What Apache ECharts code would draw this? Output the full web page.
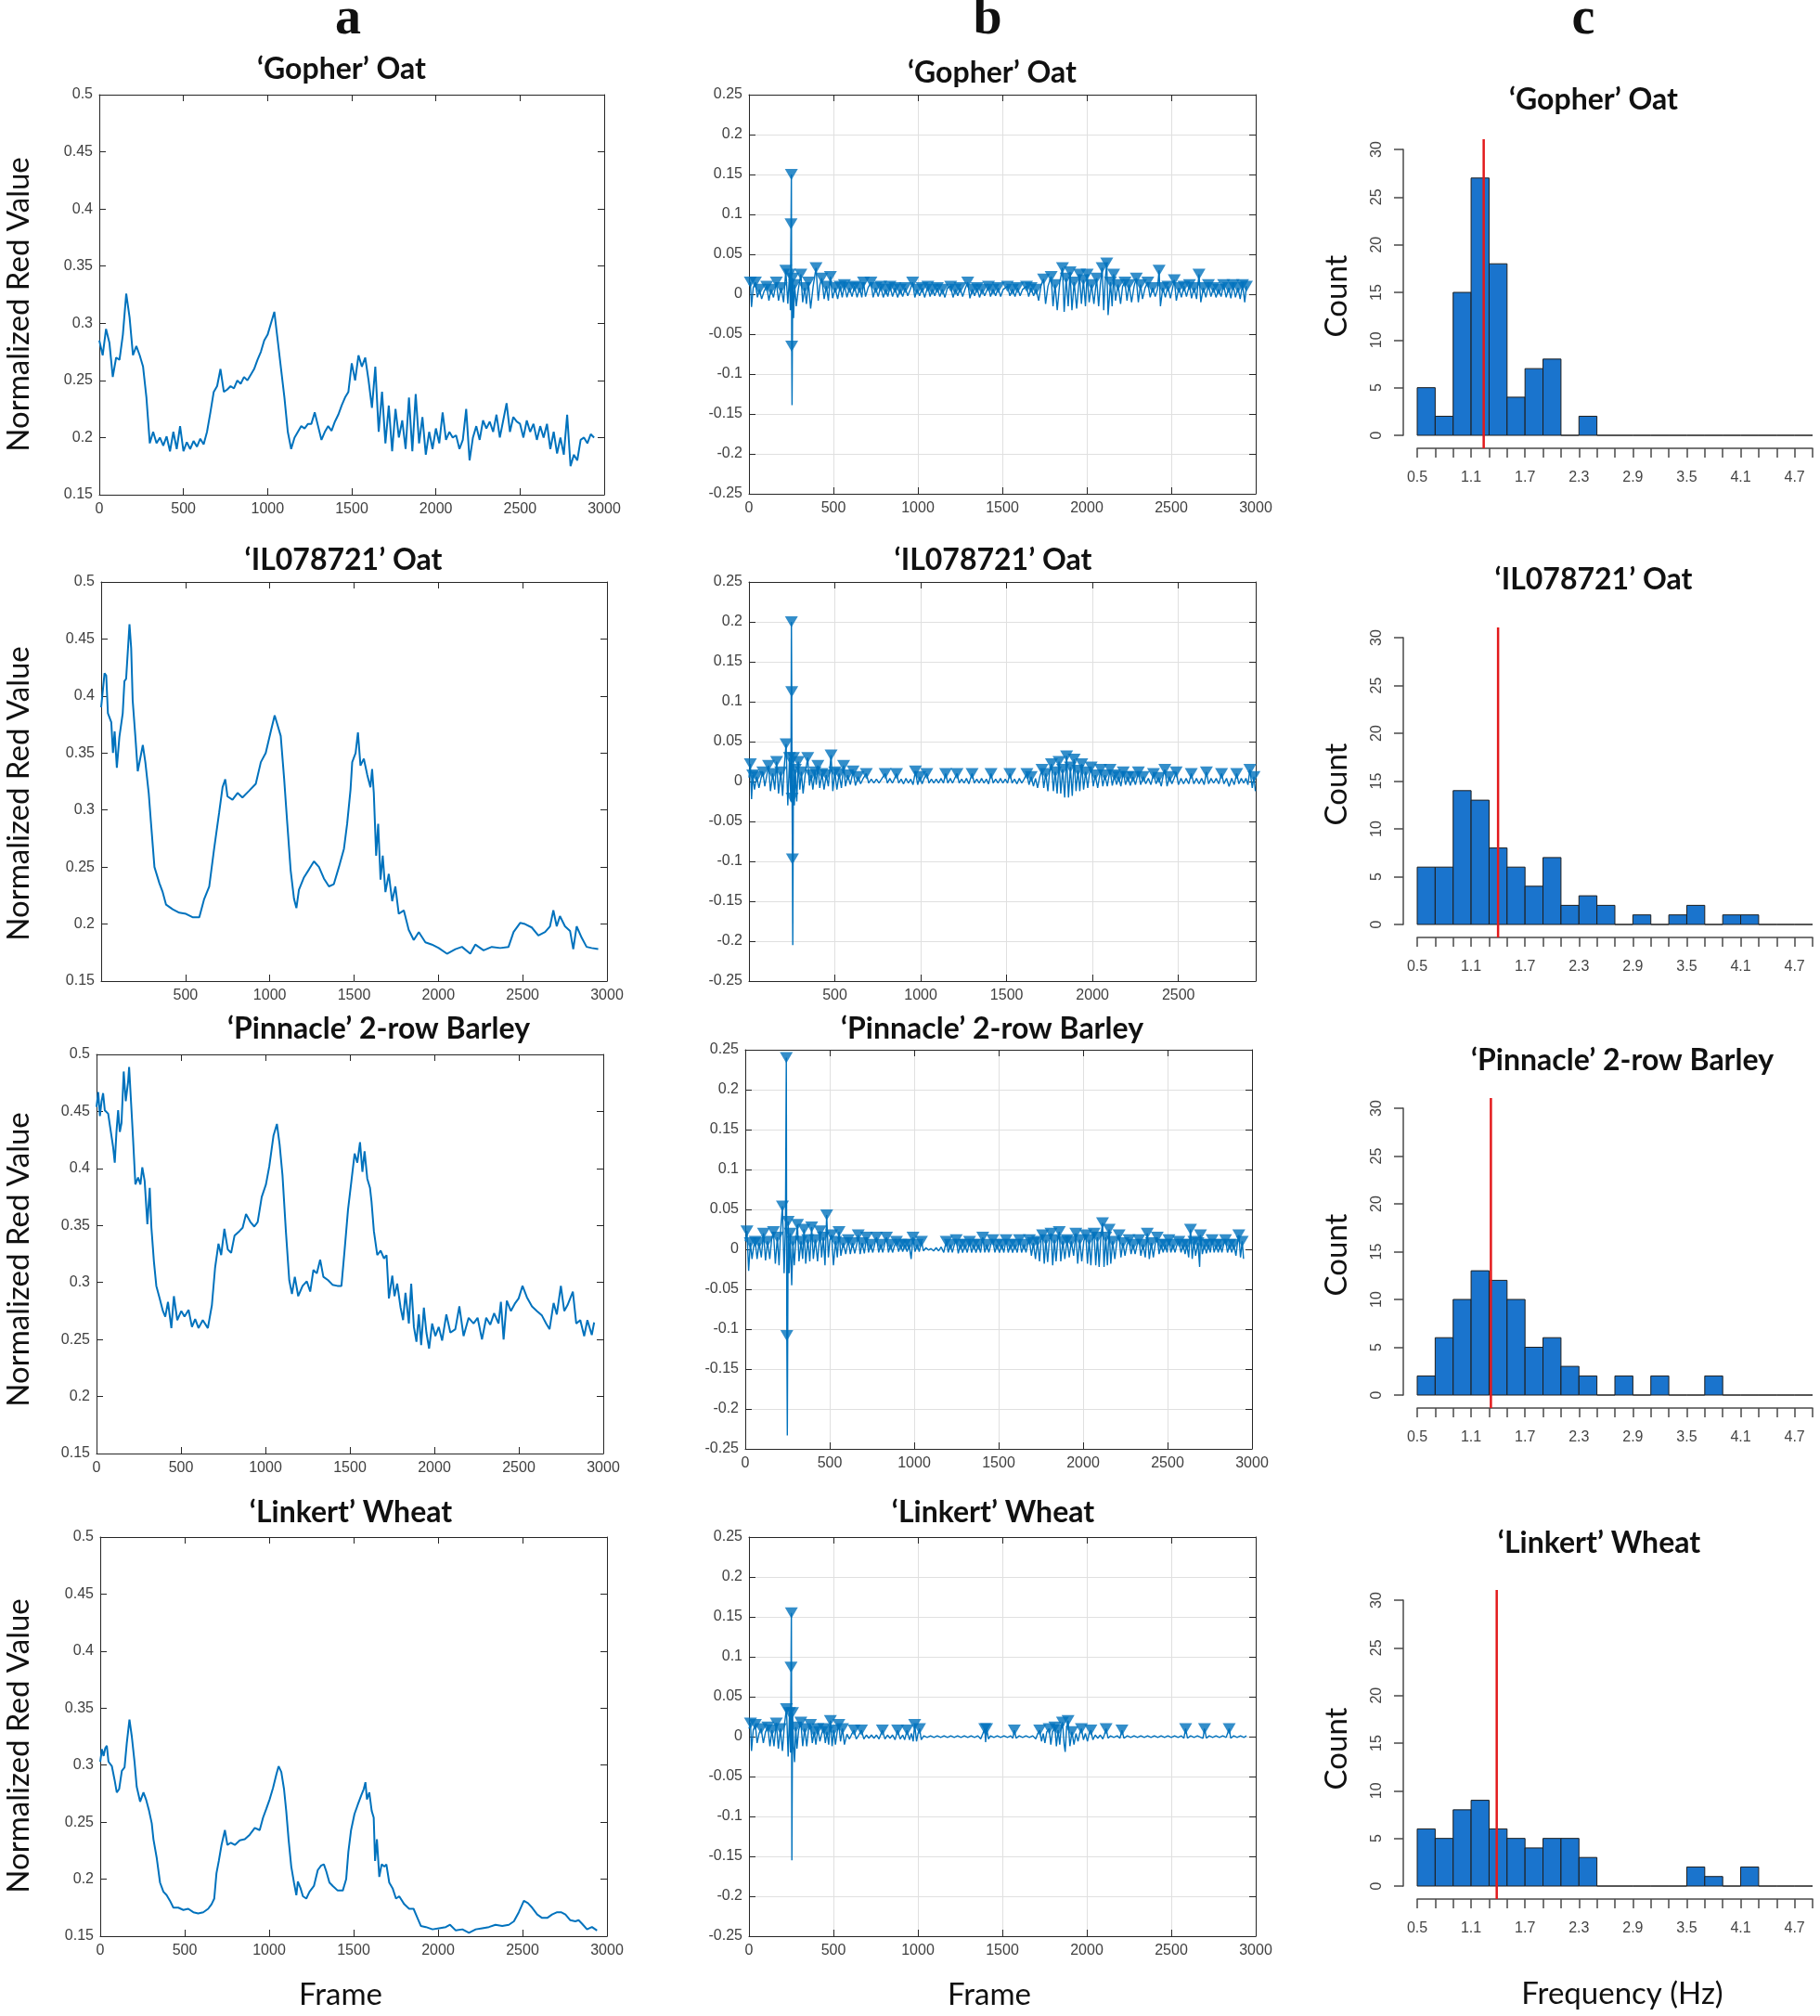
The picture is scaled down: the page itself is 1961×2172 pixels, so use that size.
<!DOCTYPE html>
<html>
<head>
<meta charset="utf-8">
<script src="https://cdn.jsdelivr.net/npm/echarts@6/dist/echarts.min.js"></script>
<style>
html, body { margin: 0; padding: 0; background: #fff; }
#chart { width: 1961px; height: 2172px; }
</style>
</head>
<body>
<div id="chart"></div>
<script>
// ---- column a: normalized red value per frame ----
const gopherRed = [[0,.285],[20,.272],[40,.295],[60,.283],[80,.253],[100,.27],[120,.268],[140,.29],[160,.326],[180,.305],[200,.272],[220,.28],[240,.272],[260,.262],[280,.235],[300,.195],[320,.205],[340,.195],[360,.2],[380,.193],[400,.201],[420,.188],[440,.205],[460,.19],[480,.21],[500,.188],[520,.196],[540,.19],[560,.197],[580,.192],[600,.199],[620,.194],[640,.205],[660,.222],[680,.24],[700,.245],[720,.26],[740,.24],[760,.242],[780,.245],[800,.243],[820,.25],[840,.247],[860,.253],[880,.25],[900,.255],[920,.26],[940,.268],[960,.275],[980,.285],[1000,.29],[1020,.3],[1040,.31],[1060,.285],[1080,.26],[1100,.235],[1120,.205],[1140,.19],[1160,.2],[1180,.205],[1200,.21],[1220,.208],[1240,.212],[1260,.212],[1280,.222],[1300,.21],[1320,.198],[1340,.205],[1360,.21],[1380,.206],[1400,.214],[1420,.22],[1440,.228],[1460,.235],[1480,.24],[1500,.265],[1520,.25],[1540,.272],[1560,.262],[1580,.27],[1600,.25],[1620,.226],[1640,.262],[1660,.205],[1680,.24],[1700,.195],[1720,.228],[1740,.188],[1760,.225],[1780,.2],[1800,.215],[1820,.19],[1840,.235],[1860,.188],[1880,.238],[1900,.195],[1920,.218],[1940,.185],[1960,.205],[1980,.19],[2000,.208],[2020,.195],[2040,.222],[2060,.198],[2080,.205],[2100,.2],[2120,.202],[2140,.19],[2160,.198],[2180,.225],[2200,.18],[2220,.2],[2240,.21],[2260,.198],[2280,.215],[2300,.208],[2320,.214],[2340,.205],[2360,.22],[2380,.2],[2400,.215],[2420,.23],[2440,.205],[2460,.218],[2480,.214],[2500,.212],[2520,.2],[2540,.215],[2560,.205],[2580,.212],[2600,.198],[2620,.21],[2640,.2],[2660,.212],[2680,.19],[2700,.205],[2720,.186],[2740,.2],[2760,.185],[2780,.22],[2800,.175],[2820,.185],[2840,.18],[2860,.198],[2880,.2],[2900,.195],[2920,.203],[2940,.2]];

const il078721Red = [[0,.39],[20,.42],[30,.418],[40,.385],[60,.377],[70,.35],[80,.369],[93,.337],[108,.364],[128,.385],[138,.413],[148,.415],[168,.463],[178,.442],[187,.396],[203,.364],[217,.334],[247,.357],[262,.342],[282,.315],[296,.288],[306,.269],[316,.25],[345,.236],[365,.228],[385,.217],[424,.213],[463,.21],[503,.209],[542,.206],[582,.206],[611,.222],[641,.233],[670,.266],[700,.298],[720,.32],[736,.327],[749,.312],[779,.309],[809,.315],[838,.311],[878,.317],[917,.323],[947,.342],[976,.35],[1006,.369],[1029,.383],[1045,.375],[1065,.365],[1085,.328],[1104,.288],[1124,.247],[1144,.222],[1158,.214],[1173,.23],[1203,.241],[1233,.248],[1262,.255],[1292,.25],[1321,.24],[1351,.233],[1380,.235],[1410,.25],[1440,.266],[1459,.288],[1479,.318],[1489,.342],[1509,.35],[1523,.368],[1538,.339],[1558,.345],[1578,.331],[1597,.32],[1607,.336],[1617,.315],[1631,.26],[1643,.288],[1657,.239],[1670,.26],[1686,.228],[1706,.244],[1726,.22],[1745,.233],[1765,.209],[1795,.212],[1824,.195],[1854,.186],[1884,.193],[1923,.184],[1962,.182],[2002,.179],[2051,.174],[2101,.178],[2140,.18],[2189,.174],[2219,.182],[2268,.177],[2317,.18],[2367,.179],[2416,.18],[2446,.193],[2485,.201],[2514,.2],[2554,.197],[2593,.19],[2633,.193],[2662,.198],[2682,.212],[2702,.198],[2721,.207],[2751,.198],[2781,.194],[2800,.178],[2820,.198],[2850,.188],[2879,.18],[2909,.179],[2948,.178]];

const pinnacleRed = [[0,.454],[10,.467],[20,.446],[30,.459],[39,.466],[49,.451],[69,.448],[85,.432],[98,.419],[108,.405],[118,.432],[128,.451],[138,.432],[148,.44],[161,.485],[173,.459],[187,.476],[193,.489],[203,.462],[216,.427],[230,.386],[246,.392],[260,.386],[271,.401],[285,.389],[301,.351],[315,.383],[325,.348],[340,.318],[354,.297],[374,.286],[393,.275],[407,.27],[423,.283],[443,.26],[458,.288],[478,.267],[502,.275],[521,.27],[545,.276],[565,.261],[584,.268],[604,.26],[629,.267],[659,.26],[683,.28],[702,.313],[722,.334],[738,.324],[757,.347],[777,.329],[797,.326],[817,.341],[846,.345],[865,.348],[885,.36],[911,.353],[934,.349],[954,.353],[978,.375],[1003,.386],[1023,.402],[1048,.429],[1068,.439],[1084,.421],[1101,.394],[1121,.345],[1141,.302],[1157,.29],[1174,.305],[1194,.288],[1220,.297],[1245,.301],[1265,.292],[1284,.311],[1304,.308],[1324,.32],[1343,.305],[1371,.302],[1397,.298],[1426,.297],[1450,.297],[1469,.329],[1489,.364],[1509,.389],[1528,.413],[1544,.405],[1560,.423],[1574,.397],[1587,.415],[1603,.391],[1619,.383],[1628,.371],[1642,.345],[1662,.324],[1682,.328],[1702,.321],[1717,.324],[1731,.286],[1751,.306],[1764,.288],[1780,.299],[1800,.278],[1815,.267],[1829,.291],[1849,.264],[1863,.299],[1879,.261],[1894,.248],[1908,.272],[1922,.245],[1938,.278],[1953,.256],[1969,.242],[1987,.264],[2006,.253],[2026,.261],[2046,.249],[2071,.272],[2095,.256],[2124,.259],[2148,.279],[2173,.253],[2203,.269],[2232,.264],[2256,.269],[2282,.25],[2307,.269],[2331,.263],[2354,.273],[2380,.264],[2394,.283],[2410,.25],[2429,.284],[2453,.275],[2479,.282],[2499,.286],[2522,.297],[2548,.287],[2578,.279],[2607,.275],[2637,.271],[2662,.264],[2682,.259],[2706,.282],[2725,.272],[2749,.297],[2769,.275],[2788,.28],[2820,.292],[2840,.264],[2864,.267],[2887,.253],[2906,.267],[2932,.254],[2946,.265]];

const linkertRed = [[0,.303],[10,.314],[20,.308],[30,.315],[39,.317],[49,.303],[69,.299],[85,.287],[98,.276],[112,.279],[128,.295],[144,.298],[157,.319],[173,.34],[187,.325],[203,.303],[216,.281],[236,.268],[256,.276],[271,.27],[289,.26],[305,.249],[315,.235],[334,.219],[354,.197],[374,.189],[393,.186],[413,.181],[433,.175],[462,.175],[492,.173],[521,.174],[551,.171],[580,.17],[610,.171],[639,.174],[659,.178],[675,.183],[688,.205],[702,.216],[718,.23],[738,.243],[753,.23],[773,.232],[797,.23],[826,.234],[856,.235],[885,.239],[915,.245],[944,.243],[964,.254],[984,.262],[1003,.27],[1023,.28],[1043,.292],[1056,.299],[1072,.294],[1088,.279],[1101,.26],[1115,.235],[1131,.211],[1147,.197],[1161,.186],[1170,.198],[1186,.192],[1200,.185],[1220,.183],[1239,.189],[1265,.194],[1288,.208],[1308,.212],[1324,.213],[1338,.207],[1357,.197],[1377,.194],[1406,.19],[1436,.19],[1456,.2],[1469,.224],[1485,.243],[1505,.257],[1524,.265],[1544,.273],[1560,.279],[1570,.285],[1579,.27],[1593,.276],[1607,.26],[1619,.254],[1627,.216],[1638,.235],[1652,.202],[1666,.213],[1682,.211],[1694,.213],[1711,.197],[1731,.192],[1751,.183],[1770,.185],[1800,.178],[1829,.174],[1855,.174],[1875,.167],[1898,.159],[1928,.158],[1967,.156],[2006,.157],[2046,.158],[2071,.16],[2105,.155],[2144,.156],[2183,.153],[2223,.156],[2262,.157],[2301,.158],[2340,.16],[2380,.159],[2419,.16],[2449,.163],[2478,.171],[2508,.181],[2532,.179],[2557,.175],[2587,.169],[2616,.166],[2646,.166],[2675,.169],[2705,.171],[2728,.171],[2754,.169],[2783,.164],[2813,.163],[2832,.164],[2852,.161],[2882,.156],[2911,.158],[2941,.155]];

// ---- column b: derivative signal per frame ----
const gopherDeriv = [[0,.012],[8,.015],[15,-.016],[25,.008],[38,.015],[50,-.004],[62,.006],[75,-.006],[90,.004],[105,.01],[118,-.008],[130,.006],[145,-.004],[162,.015],[175,-.008],[190,.008],[205,-.01],[218,.03],[230,-.012],[240,.025],[245,-.02],[249,.088],[251,.15],[253,-.065],[255,-.139],[259,.02],[264,-.03],[270,.012],[280,-.015],[292,.006],[307,.025],[318,-.01],[330,.008],[340,-.012],[352,.015],[365,-.018],[380,.01],[397,.033],[410,-.008],[420,.012],[431,.02],[445,-.006],[458,.01],[470,-.008],[482,.022],[495,-.005],[510,.008],[525,-.006],[540,.01],[552,-.004],[565,.012],[580,-.004],[595,.008],[610,-.003],[625,.01],[640,-.004],[655,.008],[668,-.004],[678,.015],[690,-.003],[705,.008],[722,.015],[735,-.004],[750,.008],[765,-.003],[780,.01],[795,-.004],[810,.006],[822,-.003],[835,.01],[850,-.003],[865,.008],[880,-.004],[895,.006],[910,-.003],[925,.008],[940,-.002],[955,.006],[969,.015],[982,-.004],[995,.006],[1010,-.002],[1025,.008],[1040,-.004],[1059,.01],[1072,-.003],[1085,.006],[1100,-.002],[1115,.008],[1130,-.003],[1145,.006],[1160,-.004],[1175,.008],[1194,.01],[1208,-.004],[1222,.006],[1236,-.002],[1250,.008],[1265,-.003],[1280,.007],[1295,.015],[1308,-.005],[1322,.006],[1336,-.002],[1350,.008],[1365,-.004],[1380,.006],[1395,-.002],[1418,.01],[1430,-.003],[1445,.006],[1460,-.002],[1475,.008],[1490,-.003],[1505,.006],[1530,.01],[1545,-.002],[1560,.006],[1575,-.003],[1590,.008],[1605,-.002],[1620,.006],[1643,.01],[1656,-.003],[1670,.008],[1685,-.002],[1700,.006],[1715,-.008],[1730,.012],[1744,.019],[1756,-.012],[1770,.01],[1789,.022],[1800,-.015],[1812,.012],[1825,-.02],[1840,.015],[1856,.033],[1866,-.022],[1878,.02],[1890,-.015],[1901,.028],[1912,-.02],[1925,.015],[1940,-.018],[1957,.025],[1968,-.012],[1980,.018],[1992,-.015],[2002,.025],[2014,-.01],[2028,.012],[2042,-.012],[2058,.02],[2070,-.015],[2080,.012],[2091,.033],[2100,-.02],[2110,.02],[2118,.039],[2126,-.026],[2140,.015],[2150,-.015],[2159,.025],[2170,-.008],[2185,.012],[2200,-.012],[2212,.01],[2226,.015],[2238,-.008],[2250,.012],[2265,-.01],[2280,.01],[2293,.02],[2305,-.01],[2318,.012],[2330,-.006],[2345,.008],[2361,.015],[2375,-.004],[2390,.008],[2405,-.003],[2418,.006],[2428,.03],[2436,-.015],[2450,.008],[2465,-.004],[2480,.01],[2495,-.005],[2518,.018],[2530,-.008],[2545,.008],[2560,-.004],[2575,.01],[2590,-.003],[2608,.012],[2620,-.005],[2635,.008],[2650,-.006],[2664,.025],[2675,-.01],[2690,.008],[2705,-.004],[2720,.012],[2735,-.003],[2750,.008],[2765,-.004],[2780,.006],[2795,-.003],[2810,.012],[2825,-.004],[2840,.008],[2853,-.005],[2866,.012],[2880,-.004],[2895,.008],[2908,-.006],[2922,.012],[2935,-.01],[2945,.01]];
const gopherSpikeMarks = [[249,.088],[253,-.065]];

const il078721Deriv = [[0,.005],[8,.022],[15,-.022],[22,.008],[32,-.01],[45,.006],[58,-.008],[70,.004],[81,.012],[92,-.006],[104,.008],[114,.02],[125,-.012],[138,.01],[150,-.01],[161,.025],[172,-.015],[185,.012],[196,-.018],[206,.02],[216,.047],[226,-.03],[236,.03],[244,-.025],[247,.2],[249,.1125],[251,-.021],[253,-.097],[255,-.205],[259,.03],[264,-.03],[270,.015],[278,-.025],[287,.025],[296,-.01],[305,.012],[315,-.015],[328,.01],[342,.03],[352,-.005],[362,.008],[372,-.01],[384,.012],[392,-.004],[401,.02],[412,-.008],[425,.01],[437,-.01],[450,.008],[462,-.006],[478,.033],[488,-.012],[500,.012],[512,-.01],[525,.01],[538,-.008],[551,.02],[562,-.006],[575,.008],[590,-.004],[606,.013],[620,-.005],[635,.006],[650,-.003],[665,.004],[683,.01],[697,-.002],[712,.003],[727,-.002],[742,.003],[757,-.002],[772,.003],[793,.01],[806,-.002],[820,.004],[835,-.002],[846,.003],[859,.01],[872,-.002],[886,.003],[900,-.003],[914,.004],[928,-.002],[942,.003],[955,-.004],[969,.013],[982,-.004],[995,.006],[1008,-.003],[1020,.004],[1035,.01],[1048,-.002],[1062,.003],[1076,-.002],[1090,.003],[1104,-.002],[1118,.004],[1132,-.002],[1145,.01],[1158,-.002],[1172,.004],[1185,-.002],[1198,.004],[1211,.01],[1224,-.002],[1238,.003],[1252,-.002],[1266,.004],[1280,-.003],[1299,.01],[1312,-.002],[1326,.003],[1340,-.002],[1354,.004],[1368,-.002],[1382,.003],[1395,-.003],[1409,.01],[1422,-.002],[1436,.003],[1450,-.002],[1464,.004],[1478,-.002],[1492,.003],[1505,-.002],[1519,.01],[1532,-.002],[1546,.003],[1560,-.003],[1574,.004],[1588,-.002],[1602,.003],[1618,.01],[1630,-.004],[1643,.006],[1656,-.006],[1668,.004],[1680,-.008],[1693,.006],[1706,.015],[1716,-.008],[1728,.01],[1740,-.012],[1750,.012],[1761,.022],[1772,-.012],[1783,.012],[1794,-.015],[1805,.025],[1815,-.015],[1826,.015],[1838,-.02],[1849,.032],[1860,-.02],[1871,.018],[1882,-.018],[1893,.028],[1904,-.012],[1915,.014],[1926,-.012],[1937,.022],[1948,-.01],[1960,.012],[1972,-.008],[1982,.01],[1992,.018],[2004,-.006],[2016,.008],[2030,-.008],[2047,.015],[2060,-.006],[2072,.008],[2086,-.006],[2102,.015],[2115,-.005],[2128,.008],[2140,-.004],[2152,.006],[2165,-.006],[2179,.012],[2192,-.004],[2206,.006],[2220,-.005],[2235,.006],[2250,-.004],[2267,.012],[2280,-.004],[2295,.006],[2310,-.003],[2325,.004],[2340,-.004],[2355,.01],[2370,-.003],[2385,.005],[2400,-.006],[2410,.006],[2421,.015],[2434,-.006],[2448,.006],[2462,-.003],[2475,.004],[2487,.012],[2500,-.004],[2515,.004],[2530,-.003],[2545,.004],[2560,-.003],[2575,.01],[2590,-.003],[2605,.004],[2620,-.003],[2635,.004],[2650,-.004],[2663,.012],[2676,-.003],[2690,.004],[2705,-.002],[2720,.004],[2735,-.003],[2751,.01],[2765,-.003],[2780,.004],[2795,-.006],[2810,.004],[2825,-.004],[2839,.01],[2852,-.003],[2866,.004],[2880,-.002],[2893,.004],[2905,-.004],[2916,.015],[2930,-.008],[2940,.006],[2948,-.012]];
const il078721SpikeMarks = [[249,.1125],[251,-.021],[253,-.097]];

const pinnacleDeriv = [[0,.01],[10,.023],[20,-.027],[30,.008],[40,-.012],[50,.004],[59,.01],[70,-.012],[82,.008],[95,-.01],[108,.02],[120,-.014],[132,.01],[145,-.012],[156,.012],[167,.022],[178,-.018],[190,.015],[200,-.02],[210,.025],[220,.054],[230,-.03],[238,.03],[243,.24],[246,-.108],[249,-.233],[254,.035],[260,-.03],[266,.02],[275,-.045],[282,.01],[290,-.02],[300,.012],[309,.031],[318,-.015],[330,.01],[340,-.012],[348,.025],[358,-.018],[370,.012],[382,-.015],[393,.028],[403,-.012],[415,.012],[428,-.015],[443,.023],[452,-.01],[462,.015],[472,-.02],[482,.043],[492,-.01],[501,.012],[511,.018],[522,-.02],[535,.01],[545,-.01],[555,.022],[566,-.008],[580,.008],[595,-.006],[610,.012],[622,-.006],[635,.008],[648,-.005],[660,.006],[669,.018],[680,-.006],[692,.008],[705,-.005],[718,.015],[730,-.004],[742,.006],[755,-.004],[766,.006],[777,.015],[790,-.004],[802,.006],[814,-.004],[825,.006],[836,.015],[848,-.004],[860,.006],[872,-.004],[884,.005],[895,.01],[908,-.003],[920,.006],[932,-.003],[945,.006],[958,-.003],[970,.006],[982,-.012],[993,.015],[1005,-.003],[1018,.006],[1030,-.003],[1043,.01],[1055,-.002],[1070,.002],[1085,-.001],[1100,.001],[1115,-.002],[1130,.002],[1145,-.002],[1160,.003],[1175,-.004],[1190,.01],[1202,-.004],[1214,.006],[1226,-.004],[1238,.006],[1249,.012],[1261,-.005],[1274,.006],[1287,-.004],[1300,.006],[1314,-.004],[1328,.01],[1340,-.004],[1353,.006],[1366,-.004],[1380,.006],[1393,-.004],[1406,.015],[1418,-.004],[1430,.006],[1442,-.004],[1454,.006],[1465,.012],[1478,-.004],[1490,.006],[1505,-.004],[1518,.006],[1531,-.004],[1544,.012],[1557,-.004],[1570,.006],[1583,-.004],[1596,.006],[1610,-.004],[1623,.012],[1636,-.004],[1650,.006],[1662,-.004],[1672,.006],[1682,.012],[1694,-.008],[1706,.008],[1718,-.012],[1730,.01],[1742,-.015],[1752,.012],[1760,.018],[1770,-.018],[1780,.012],[1790,-.016],[1800,.01],[1810,.02],[1820,-.02],[1830,.012],[1840,-.015],[1850,.012],[1859,.022],[1868,-.015],[1880,.01],[1892,-.012],[1905,.012],[1918,-.01],[1930,.01],[1944,-.008],[1957,.02],[1968,-.018],[1980,.012],[1992,-.015],[2004,.01],[2016,.018],[2026,-.018],[2036,.012],[2046,-.02],[2056,.012],[2065,.02],[2075,-.02],[2085,.015],[2095,-.022],[2105,.015],[2115,.033],[2124,-.022],[2134,.015],[2144,-.02],[2154,.025],[2164,-.018],[2175,.01],[2188,-.012],[2200,.01],[2213,.018],[2224,-.01],[2236,.008],[2248,-.008],[2260,.006],[2272,.012],[2284,-.006],[2296,.006],[2308,-.006],[2320,.006],[2331,.012],[2342,-.008],[2355,.006],[2368,-.01],[2380,.02],[2392,-.012],[2404,.008],[2416,-.01],[2428,.008],[2439,.015],[2450,-.006],[2462,.006],[2474,-.004],[2486,.006],[2497,-.004],[2508,.012],[2520,-.004],[2532,.006],[2544,-.004],[2556,.006],[2567,.01],[2580,-.004],[2592,.006],[2604,-.006],[2614,.006],[2625,-.01],[2636,.025],[2646,-.012],[2656,.01],[2666,-.008],[2680,.008],[2690,-.022],[2695,.018],[2706,-.006],[2718,.006],[2730,-.005],[2742,.006],[2753,-.004],[2764,.012],[2776,-.004],[2788,.006],[2800,-.004],[2812,.006],[2822,-.004],[2832,.006],[2843,.012],[2855,-.004],[2868,.006],[2880,-.004],[2892,.006],[2905,-.008],[2915,.01],[2922,.018],[2932,-.01],[2942,.01],[2950,-.012]];
const pinnacleSpikeMarks = [[246,-.108]];

const linkertDeriv = [[0,.01],[9,.017],[15,-.018],[25,.008],[38,.015],[48,-.008],[60,.004],[72,.01],[85,-.008],[98,.006],[112,.012],[124,-.012],[136,.008],[148,-.012],[162,.017],[174,-.015],[186,.01],[198,-.018],[210,.015],[222,.035],[232,-.025],[240,.03],[246,-.02],[249,.087],[251,.155],[254,-.155],[258,.03],[264,-.012],[270,-.032],[277,.012],[284,-.015],[294,.008],[307,.018],[318,-.012],[330,.01],[342,-.012],[352,.008],[364,.015],[375,-.008],[386,.006],[396,-.01],[408,.01],[420,-.006],[431,.004],[442,.01],[452,-.008],[462,.006],[472,-.01],[482,.02],[492,-.012],[502,.008],[512,-.01],[522,.006],[532,.015],[542,-.006],[554,.01],[565,-.01],[580,.003],[595,-.003],[608,.003],[622,.008],[635,-.003],[650,.002],[666,.008],[680,-.003],[695,.002],[710,-.002],[725,.002],[740,-.002],[755,.002],[770,-.003],[790,.008],[805,-.003],[820,.002],[835,-.002],[850,.002],[865,-.004],[880,.008],[895,-.003],[910,.002],[922,-.004],[936,.008],[950,-.004],[962,.004],[972,-.006],[981,.015],[992,-.006],[1001,.004],[1010,.01],[1020,-.004],[1035,.001],[1055,-.001],[1075,.001],[1095,-.001],[1115,.001],[1135,-.001],[1155,.001],[1175,-.001],[1195,.001],[1215,-.001],[1235,.001],[1255,-.001],[1275,.001],[1295,-.001],[1315,.001],[1335,-.001],[1355,.001],[1372,-.003],[1385,.004],[1396,.01],[1401,-.007],[1407,.01],[1418,-.003],[1430,.001],[1450,-.001],[1470,.001],[1490,-.001],[1510,.001],[1530,-.001],[1550,.001],[1562,-.002],[1571,.008],[1582,-.002],[1600,.001],[1620,-.001],[1640,.001],[1660,-.001],[1680,.001],[1698,-.003],[1710,.004],[1721,.008],[1732,-.006],[1742,.004],[1752,-.008],[1763,.006],[1777,.01],[1787,-.01],[1797,.006],[1811,.012],[1820,-.012],[1830,.008],[1840,-.01],[1848,.01],[1856,.018],[1866,-.01],[1872,-.019],[1880,.01],[1889,.02],[1900,-.012],[1912,.006],[1924,-.01],[1936,.004],[1948,-.006],[1958,.004],[1968,.01],[1980,-.004],[1992,.004],[2004,-.006],[2014,.004],[2024,.008],[2036,-.004],[2050,.002],[2065,-.002],[2080,.002],[2095,-.003],[2105,.003],[2114,.01],[2126,-.002],[2140,.001],[2160,-.001],[2180,.001],[2196,-.002],[2208,.008],[2220,-.002],[2240,.001],[2260,-.001],[2280,.001],[2300,-.001],[2320,.001],[2340,-.001],[2360,.001],[2380,-.001],[2400,.001],[2420,-.001],[2440,.001],[2460,-.001],[2480,.001],[2500,-.001],[2520,.001],[2540,-.001],[2560,.001],[2575,-.002],[2585,.01],[2596,-.002],[2615,.001],[2635,-.001],[2655,.001],[2675,-.001],[2688,-.002],[2697,.01],[2708,-.002],[2725,.001],[2745,-.001],[2765,.001],[2785,-.001],[2805,.001],[2825,-.001],[2835,-.002],[2843,.01],[2852,-.002],[2870,.001],[2890,-.001],[2910,.001],[2930,-.001],[2945,.001]];
const linkertSpikeMarks = [[249,.087]];

// ---- column c: histogram of frequencies ----
const binWidth = 0.2;
const binStarts = [0.5,0.7,0.9,1.1,1.3,1.5,1.7,1.9,2.1,2.3,2.5,2.7,2.9,3.1,3.3,3.5,3.7,3.9,4.1,4.3,4.5,4.7];
const gopherCounts   = [5,2,15,27,18,4,7,8,0,2,0,0,0,0,0,0,0,0,0,0,0,0];
const il078721Counts = [6,6,14,13,8,6,4,7,2,3,2,0,1,0,1,2,0,1,1,0,0,0];
const pinnacleCounts = [2,6,10,13,12,10,5,6,3,2,0,2,0,2,0,0,2,0,0,0,0,0];
const linkertCounts  = [6,5,8,9,6,5,4,5,5,3,0,0,0,0,0,2,1,0,2,0,0,0];
const medianFreq = [1.24, 1.40, 1.32, 1.385];

const titles = ['\u2018Gopher\u2019 Oat', '\u2018IL078721\u2019 Oat', '\u2018Pinnacle\u2019 2-row Barley', '\u2018Linkert\u2019 Wheat'];

const chart = echarts.init(document.getElementById('chart'));
const lineBlue = '#0072bd';
const grids = [], xAxes = [], yAxes = [], series = [], texts = [];

function matlabPanel(box, yMin, yMax, yStep, xMax, gridOn, hideZero) {
  const gi = grids.length;
  grids.push({left: box[0], top: box[1], width: box[2], height: box[3]});
  const xi = xAxes.length, yi = yAxes.length;
  const axisLine = {show: true, onZero: false, lineStyle: {color: '#262626', width: 1}};
  const tick = {show: true, inside: true, length: 7, lineStyle: {color: '#262626'}};
  const split = {show: gridOn, lineStyle: {color: '#e0e0e0', width: 1}};
  xAxes.push({type: 'value', gridIndex: gi, min: 0, max: xMax, interval: 500, position: 'bottom',
    axisLine: axisLine, axisTick: tick, splitLine: split,
    axisLabel: {color: '#404040', fontSize: 16, fontFamily: 'Liberation Sans', margin: 8,
      formatter: v => (v % 500 !== 0 || (hideZero && v === 0)) ? '' : String(v)}});
  xAxes.push({type: 'value', gridIndex: gi, min: 0, max: xMax, interval: 500, position: 'top',
    axisLine: axisLine, axisTick: tick, axisLabel: {show: false}, splitLine: {show: false}});
  yAxes.push({type: 'value', gridIndex: gi, min: yMin, max: yMax, interval: yStep, position: 'left',
    axisLine: axisLine, axisTick: tick, splitLine: split,
    axisLabel: {color: '#404040', fontSize: 16, fontFamily: 'Liberation Sans', margin: 7}});
  yAxes.push({type: 'value', gridIndex: gi, min: yMin, max: yMax, interval: yStep, position: 'right',
    axisLine: axisLine, axisTick: tick, axisLabel: {show: false}, splitLine: {show: false}});
  return {xi: xi, yi: yi};
}

// local maxima above a small threshold, as marked in the original peak plot
function findPeaks(pts, extra) {
  const out = [];
  for (let i = 0; i < pts.length; i++) {
    const v = pts[i][1];
    const prev = i > 0 ? pts[i - 1][1] : -Infinity;
    const next = i < pts.length - 1 ? pts[i + 1][1] : -Infinity;
    if (v > prev && v > next && v >= 0.005) out.push(pts[i]);
  }
  return out.concat(extra);
}

function histPanel(box, counts, median) {
  const gi = grids.length;
  grids.push({left: box[0], top: box[1], width: box[2], height: box[3]});
  const xi = xAxes.length, yi = yAxes.length;
  const rLine = {show: true, onZero: false, lineStyle: {color: '#4a4a4a', width: 1.5}};
  const rTick = {show: true, inside: false, length: 10, lineStyle: {color: '#4a4a4a', width: 1.5}};
  xAxes.push({type: 'value', gridIndex: gi, min: 0, max: binStarts.length, interval: 1, offset: 14,
    axisLine: rLine, axisTick: rTick, splitLine: {show: false},
    axisLabel: {color: '#444', fontSize: 16, fontFamily: 'Liberation Sans', margin: 24,
      formatter: v => (v % 3 === 0 && v < binStarts.length) ? binStarts[v].toFixed(1) : ''}});
  yAxes.push({type: 'value', gridIndex: gi, min: 0, max: 30, interval: 5, offset: 15,
    axisLine: rLine, axisTick: rTick, splitLine: {show: false},
    axisLabel: {color: '#444', fontSize: 16, fontFamily: 'Liberation Sans', margin: 20, rotate: 90}});
  series.push({type: 'custom', xAxisIndex: xi, yAxisIndex: yi, animation: false,
    data: counts.map((c, k) => [k, c]),
    renderItem: function (params, api) {
      const k = api.value(0), c = api.value(1);
      const p0 = api.coord([k, c]), p1 = api.coord([k + 1, 0]);
      return {type: 'rect', shape: {x: p0[0], y: p0[1], width: p1[0] - p0[0], height: p1[1] - p0[1]},
        style: {fill: '#1a74cd', stroke: '#1e1e1e', lineWidth: 1}};
    }});
  // median line spans the full R plot region
  const og = grids.length;
  grids.push({left: box[0], top: box[1] - 11, width: box[2], height: box[3] + 25});
  const oxi = xAxes.length, oyi = yAxes.length;
  xAxes.push({type: 'value', gridIndex: og, min: 0, max: binStarts.length, show: false});
  yAxes.push({type: 'value', gridIndex: og, min: 0, max: 1, show: false});
  const mx = (median - binStarts[0]) / binWidth;
  series.push({type: 'line', xAxisIndex: oxi, yAxisIndex: oyi, data: [[mx, 0], [mx, 1]],
    symbol: 'none', animation: false, z: 5, lineStyle: {color: '#e31a1c', width: 2.5}});
}

const redSeries = [gopherRed, il078721Red, pinnacleRed, linkertRed];
const derivSeries = [gopherDeriv, il078721Deriv, pinnacleDeriv, linkertDeriv];
const spikeMarks = [gopherSpikeMarks, il078721SpikeMarks, pinnacleSpikeMarks, linkertSpikeMarks];
const countSeries = [gopherCounts, il078721Counts, pinnacleCounts, linkertCounts];

const aBoxes = [[107, 102, 544, 431], [109, 627, 545, 430], [104, 1136, 546, 430], [108, 1656, 546, 430]];
const bBoxes = [[807, 102, 546, 430], [807, 627, 546, 430], [803, 1131, 546, 430], [807, 1656, 546, 430]];
const bXMax = [3000, 2950, 3000, 3000];
const cBoxes = [[1527, 161, 426, 308], [1527, 687, 426, 309], [1527, 1194, 426, 309], [1527, 1724, 426, 308]];

for (let r = 0; r < 4; r++) {
  const a = matlabPanel(aBoxes[r], 0.15, 0.5, 0.05, 3000, false, r === 1);
  series.push({type: 'line', xAxisIndex: a.xi, yAxisIndex: a.yi, data: redSeries[r],
    symbol: 'none', animation: false, lineStyle: {color: lineBlue, width: 2}});

  const b = matlabPanel(bBoxes[r], -0.25, 0.25, 0.05, bXMax[r], true, r === 1);
  series.push({type: 'line', xAxisIndex: b.xi, yAxisIndex: b.yi, data: derivSeries[r],
    symbol: 'none', animation: false, lineStyle: {color: lineBlue, width: 1.4}});
  series.push({type: 'scatter', xAxisIndex: b.xi, yAxisIndex: b.yi, data: findPeaks(derivSeries[r], spikeMarks[r]),
    symbol: 'triangle', symbolRotate: 180, symbolSize: [14, 12], animation: false,
    itemStyle: {color: lineBlue}});

  histPanel(cBoxes[r], countSeries[r], medianFreq[r]);
}

function addText(str, x, y, font, rot) {
  texts.push({type: 'text', x: x, y: y, rotation: rot || 0, silent: true,
    style: {text: str, font: font, fill: '#111', align: 'center', verticalAlign: 'middle',
      textAlign: 'center', textVerticalAlign: 'middle'}});
}

const titleFont = 'bold 32px Lato';
const labelFont = '33px Lato';
const letterFont = 'bold 56px "Liberation Serif"';
addText('a', 375, 22, letterFont);
addText('b', 1064, 22, letterFont);
addText('c', 1706, 22, letterFont);

const aTitlePos = [[368, 75], [370, 604], [408, 1109], [378, 1630]];
const bTitlePos = [[1069, 79], [1070, 604], [1069, 1109], [1070, 1630]];
const cTitlePos = [[1717, 108], [1717, 625], [1748, 1143], [1723, 1663]];
const aLabelY = [328, 855, 1357, 1881];
const cLabelY = [319, 845, 1352, 1884];
for (let r = 0; r < 4; r++) {
  addText(titles[r], aTitlePos[r][0], aTitlePos[r][1], titleFont);
  addText(titles[r], bTitlePos[r][0], bTitlePos[r][1], titleFont);
  addText(titles[r], cTitlePos[r][0], cTitlePos[r][1], titleFont);
  addText('Normalized Red Value', 20, aLabelY[r], labelFont, Math.PI / 2);
  addText('Count', 1440, cLabelY[r], labelFont, Math.PI / 2);
}
addText('Frame', 367, 2149, labelFont);
addText('Frame', 1066, 2149, labelFont);
addText('Frequency (Hz)', 1748, 2148, labelFont);

chart.setOption({
  animation: false,
  backgroundColor: '#fff',
  grid: grids,
  xAxis: xAxes,
  yAxis: yAxes,
  series: series,
  graphic: {elements: texts}
});
</script>
</body>
</html>
